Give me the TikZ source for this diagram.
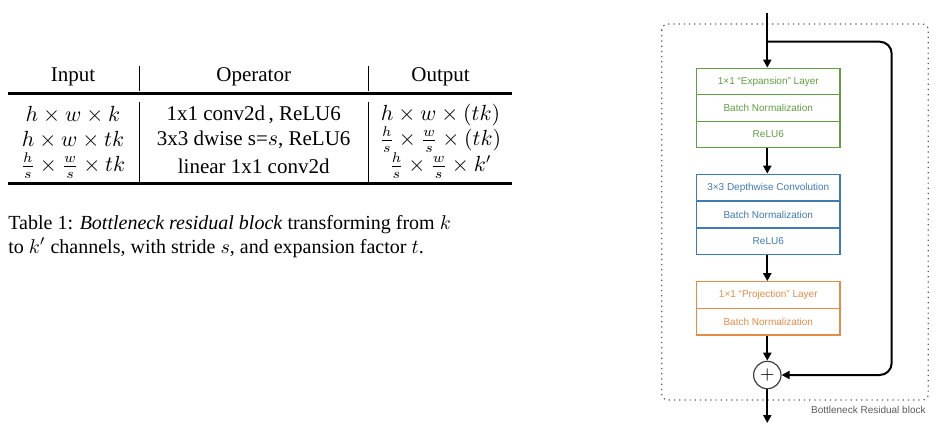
\documentclass[tikz,border=0pt]{standalone}
\usepackage{fontspec}
\setmainfont{Liberation Serif}
\newfontfamily\diagfont[Ligatures=TeX]{Liberation Sans}
\usetikzlibrary{arrows.meta}
\definecolor{expgreen}{RGB}{98,156,68}
\definecolor{dwblue}{RGB}{64,122,178}
\definecolor{projorange}{RGB}{226,140,72}
\definecolor{labelgrey}{RGB}{90,90,90}
\tikzset{
  layerbox/.style={draw=#1,text=#1,line width=0.6pt,minimum width=71.65pt,minimum height=13.25pt,inner sep=0pt,font=\diagfont\fontsize{5}{6}\selectfont},
  flow/.style={line width=1pt,-{Triangle[length=4pt,width=4pt]}},
  cell/.style={inner sep=0pt,font=\fontsize{10.5}{12}\selectfont},
}
\begin{document}
\begin{tikzpicture}[x=0.5pt,y=-0.5pt]
 \useasboundingbox (0,0) rectangle (948,446);
 % table
 \def\tl{8}\def\tr{512}\def\ca{139.3}\def\cb{368.3}
 \draw[line width=1.5pt] (\tl,93.3)--(\tr,93.3);
 \draw[line width=1.5pt] (\tl,183.3)--(\tr,183.3);
 \foreach \x in {\ca,\cb}\draw[line width=0.5pt] (\x,66)--(\x,90.7) (\x,101.7)--(\x,181.7);
 \node[cell] (hin) at (73,77) {Input};
 \node[cell] (hop) at (253.7,77) {Operator};
 \node[cell] (hout) at (440.5,77) {Output};
 \node[cell] (in1) at (73,115) {$h \times w \times k$};
 \node[cell] (in2) at (73,140) {$h \times w \times tk$};
 \node[cell] (in3) at (73,166) {$\frac{h}{s} \times \frac{w}{s} \times tk$};
 \node[cell] (op1) at (253.7,115) {1x1 conv2d\,, ReLU6};
 \node[cell] (op2) at (253.7,140) {3x3 dwise s=$s$, ReLU6};
 \node[cell] (op3) at (253.7,166) {linear 1x1 conv2d};
 \node[cell] (out1) at (440.5,115) {$h \times w \times (tk)$};
 \node[cell] (out2) at (440.5,140) {$\frac{h}{s} \times \frac{w}{s} \times (tk)$};
 \node[cell] (out3) at (440.5,166) {$\frac{h}{s} \times \frac{w}{s} \times k'$};
 \node[inner sep=0pt,anchor=base west] (cap1) at (8,229) {Table 1: \textit{Bottleneck residual block} transforming from $k$};
 \node[inner sep=0pt,anchor=base west] (cap2) at (8,253) {to $k'$ channels, with stride $s$, and expansion factor $t$.};
 % block
 \draw[labelgrey,dotted,line width=0.6pt,rounded corners=3pt] (661.7,24) rectangle (928.3,400);
 \node[anchor=east,inner sep=0pt,text=labelgrey,font=\diagfont\fontsize{5}{6}\selectfont] (blk) at (926,410) {Bottleneck Residual block};
 \node[layerbox=expgreen] (e1) at (768.3,81.5) {1×1 “Expansion” Layer};
 \node[layerbox=expgreen] (e2) at (768.3,108) {Batch Normalization};
 \node[layerbox=expgreen] (e3) at (768.3,134.5) {ReLU6};
 \node[layerbox=dwblue] (d1) at (768.3,187.5) {3×3 Depthwise Convolution};
 \node[layerbox=dwblue] (d2) at (768.3,214.5) {Batch Normalization};
 \node[layerbox=dwblue] (d3) at (768.3,241.5) {ReLU6};
 \node[layerbox=projorange] (p1) at (768.3,295) {1×1 “Projection” Layer};
 \node[layerbox=projorange] (p2) at (768.3,321.7) {Batch Normalization};
 \node[draw=black!75,circle,line width=0.6pt,minimum size=13.7pt,inner sep=0pt,font=\fontsize{9}{9}\selectfont] (add) at (767.3,375) {$+$};
 \coordinate (top) at (767.3,13);
 \coordinate (split) at (767.3,41.7);
 \coordinate (out) at (767.3,423);
 \draw[flow] (top) -- (e1.north -| top);
 \draw[flow] (e3.south -| top) -- (d1.north -| top);
 \draw[flow] (d3.south -| top) -- (p1.north -| top);
 \draw[flow] (p2.south -| top) -- (add);
 \draw[flow] (add) -- (out);
 \draw[flow,rounded corners=6pt] (split) -- ++(124.4,0) |- (add.east);
\end{tikzpicture}
\end{document}
